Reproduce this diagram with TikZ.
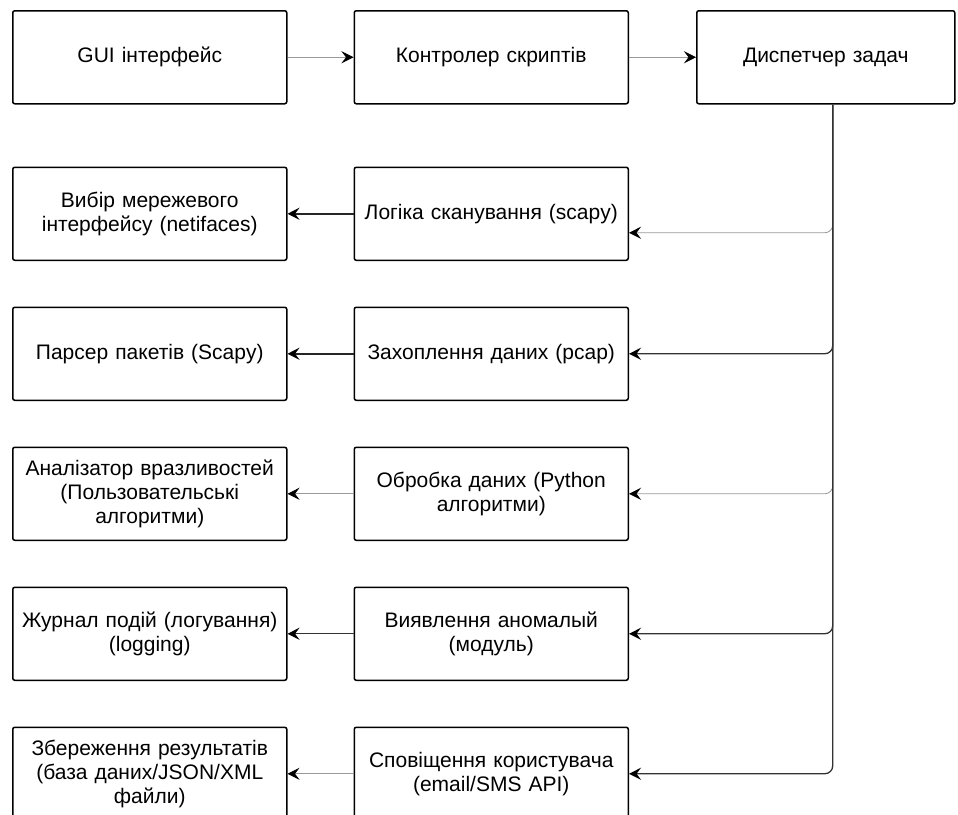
\documentclass[tikz,border=0pt]{standalone}
\usepackage{fontspec}
\setmainfont{Liberation Sans}
\usepackage{tikz}
\usetikzlibrary{arrows.meta, positioning}
\tikzstyle{block} = [rectangle, rounded corners=2pt, minimum width=274pt, minimum height=93pt, text width=266pt, align=center, draw=black, line width=1.5pt, fill=white, font=\fontsize{21}{24}\selectfont]
\tikzstyle{thinline} = [line width=0.8pt, draw=black!40, -{Stealth[length=12pt, width=12pt, inset=4.5pt, color=black]}]
\tikzstyle{midline} = [line width=1.3pt, draw=black!80, -{Stealth[length=12pt, width=12pt, inset=4.5pt, color=black]}]
\tikzstyle{thickline} = [line width=1.8pt, draw=black!85, -{Stealth[length=12pt, width=12pt, inset=4.5pt, color=black]}]

\begin{document}
\begin{tikzpicture}[x=1pt, y=1pt]
    \useasboundingbox (0,0) rectangle (958,-814);
    % top row
    \node (gui) [block, anchor=north west] at (12,-10) {GUI інтерфейс};
    \node (ctrl) [block, right=66pt of gui] {Контролер скриптів};
    \node (disp) [block, right=67pt of ctrl, minimum width=258pt, text width=250pt] {Диспетчер задач};
    % middle column
    \node (scan) [block, below=62pt of ctrl] {Логіка сканування (scapy)};
    \node (cap) [block, below=45.5pt of scan] {Захоплення даних (pcap)};
    \node (proc) [block, below=45.5pt of cap] {Обробка даних (Python\\алгоритми)};
    \node (anom) [block, below=45.5pt of proc] {Виявлення аномалый\\(модуль)};
    \node (notif) [block, below=45.5pt of anom] {Сповіщення користувача\\(email/SMS API)};
    % left column
    \node (iface) [block, left=66pt of scan] {Вибір мережевого\\інтерфейсу (netifaces)};
    \node (parse) [block, left=66pt of cap] {Парсер пакетів (Scapy)};
    \node (vuln) [block, left=66pt of proc] {Аналізатор вразливостей\\(Пользовательські\\алгоритми)};
    \node (log) [block, left=66pt of anom] {Журнал подій (логування)\\(logging)};
    \node (store) [block, left=66pt of notif] {Збереження результатів\\(база даних/JSON/XML\\файли)};

    \draw [thinline] (gui) -- (ctrl);
    \draw [thinline] (ctrl) -- (disp);
    \foreach \i/\j/\s in {scan/iface/thickline, cap/parse/thickline, proc/vuln/thinline, anom/log/midline, notif/store/thinline} {
        \draw [\s] (\i) -- (\j);
    }

    % branches from the dispatcher
    \coordinate (trunk) at ([xshift=7pt]disp.south);
    \draw [thinline, rounded corners=8pt] (trunk) |- ([yshift=-19pt]scan.east);
    \foreach \j/\s in {proc/thinline, notif/midline, anom/midline, cap/midline} {
        \draw [\s, rounded corners=8pt] (trunk) |- (\j.east);
    }
\end{tikzpicture}
\end{document}
